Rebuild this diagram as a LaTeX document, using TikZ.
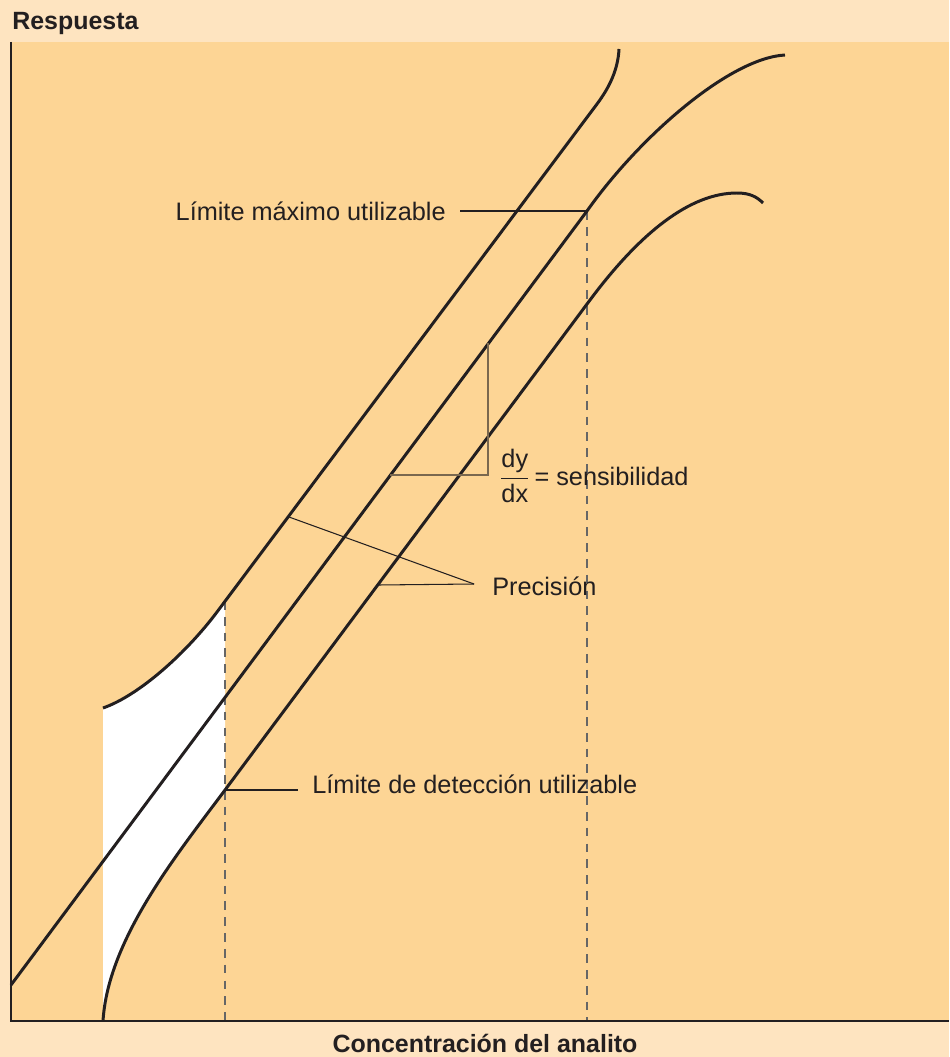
\documentclass[tikz,border=0pt]{standalone}
\usepackage{fontspec}
\setmainfont{Liberation Sans}
\definecolor{bandcol}{RGB}{254,228,192}
\definecolor{areacol}{RGB}{253,213,149}
\definecolor{inkcol}{RGB}{35,31,32}
\begin{document}
\begin{tikzpicture}[x = 0.02cm, y = -0.02cm,
  curve/.style = {line width = 1.7pt, color = inkcol},
  pointer/.style = {line width = 0.6pt, color = inkcol},
  guide/.style = {line width = 0.6pt, color = gray!80!black, dash pattern = on 5pt off 4pt},
  lbl/.style = {inner sep = 0pt, font = \fontsize{14.4}{17}\selectfont, text = inkcol}]

\useasboundingbox (0, 0) rectangle (949, 1057);
\fill[bandcol] (0, 0) rectangle (949, 1057);
\fill[areacol] (11, 42) rectangle (949, 1021);

% region under the detection limit
\fill[white] (103, 708) .. controls (140, 695) and (187, 652) .. (217, 612) -- (225, 601)
  -- (225, 790) .. controls (175, 857) and (108, 940) .. (103, 1021) -- cycle;

% points on the curves
\coordinate (detTop) at (225, 601);
\coordinate (detPt) at (225, 790);
\coordinate (detBot) at (225, 1021);
\coordinate (maxPt) at (587, 211);
\coordinate (maxBot) at (587, 1021);
\coordinate (slopeA) at (390, 475);
\coordinate (slopeB) at (488, 475);
\coordinate (slopeC) at (488, 343);
\coordinate (precU) at (289, 517);
\coordinate (precL) at (378, 585);
\coordinate (precJoin) at (474, 584);

\draw[guide] (detTop) -- (detBot);
\draw[guide] (maxPt) -- (maxBot);

% three response curves
\draw[curve] (103, 708) .. controls (140, 695) and (187, 652) .. (217, 612) -- (597, 104)
  .. controls (609, 88) and (618, 70) .. (619, 49);
\draw[curve] (11, 985) -- (maxPt) .. controls (640, 136) and (730, 58) .. (785, 55);
\draw[curve] (103, 1021) .. controls (108, 940) and (175, 857) .. (detPt) -- (590, 300)
  .. controls (640, 233) and (690, 193) .. (737, 193) .. controls (750, 193) and (757, 197) .. (763, 203);

% axes
\draw[line width = 1.5pt, color = inkcol] (11, 42) -- (11, 1021) -- (949, 1021);

\node[lbl, font = \fontsize{14.2}{17}\selectfont\bfseries, anchor = base west] (ylbl) at (12, 30) {Respuesta};
\node[lbl, font = \fontsize{14.2}{17}\selectfont\bfseries, anchor = base] (xlbl) at (485, 1052) {Concentración del analito};

\node[lbl, anchor = base east] (maxLbl) at (446, 221) {Límite máximo utilizable};
\draw[pointer, shorten >= 8pt] (maxPt) -- (maxPt -| maxLbl.east);

\node[lbl, anchor = base west] (detLbl) at (312, 793) {Límite de detección utilizable};
\draw[pointer, shorten >= 8pt] (detPt) -- (detPt -| detLbl.west);

\draw[line width = 0.6pt, color = inkcol!60!areacol] (slopeA) -- (slopeB) -- (slopeC);
\node[lbl, anchor = base west] (slopeLbl) at (499, 485)
  {\(\displaystyle\frac{\mbox{dy}}{\mbox{dx}}\)\,= sensibilidad};

\node[lbl, anchor = base west] (precLbl) at (492, 595) {Precisión};
\draw[pointer] (precU) -- (precJoin);
\draw[pointer] (precL) -- (precJoin);

\end{tikzpicture}
\end{document}
